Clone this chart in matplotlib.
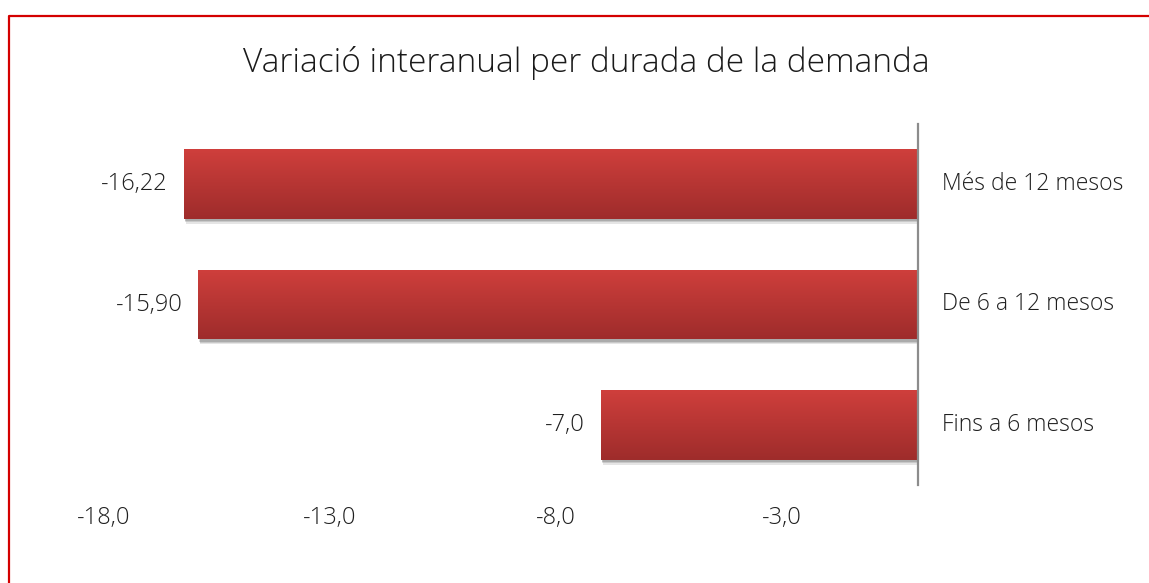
import matplotlib
matplotlib.use("Agg")
import matplotlib.pyplot as plt
import matplotlib.patheffects as pe
from matplotlib.lines import Line2D
import numpy as np

# ---- data ----
categories = ["Fins a 6 mesos", "De 6 a 12 mesos", "Més de 12 mesos"]
values = [-7.0, -15.90, -16.22]
value_labels = ["-7,0", "-15,90", "-16,22"]
x_ticks = [-18.0, -13.0, -8.0, -3.0]
x_tick_labels = ["-18,0", "-13,0", "-8,0", "-3,0"]
title = "Variació interanual per durada de la demanda"

W, H = 1149, 583
fig = plt.figure(figsize=(W / 100, H / 100), dpi=100)
fig.patch.set_facecolor("white")

FONT = "Open Sans"
WEIGHT = "light"
TXT = "#1f1f1f"
FS_CAT = 16.5
FS_NUM = 17

left_px, right_px, top_px, bot_px = 103.4, 917.5, 123.75, 485.25
ax = fig.add_axes([left_px / W, 1 - bot_px / H, (right_px - left_px) / W, (bot_px - top_px) / H])
ax.set_facecolor("none")

ypos = np.arange(len(categories))
bar_h = 0.58
top_col = np.array([207, 63, 60]) / 255
bot_col = np.array([158, 44, 43]) / 255
grad = np.linspace(0, 1, 256)[:, None, None]
grad_img = top_col * (1 - grad) + bot_col * grad

bars = ax.barh(ypos, values, height=bar_h, color=bot_col, edgecolor="none", zorder=2)
for b in bars:
    b.set_path_effects([
        pe.SimplePatchShadow(offset=(1.5, -3.5), shadow_rgbFace="#000000", alpha=0.10),
        pe.SimplePatchShadow(offset=(1.0, -2.5), shadow_rgbFace="#000000", alpha=0.12),
        pe.SimplePatchShadow(offset=(0.5, -1.5), shadow_rgbFace="#000000", alpha=0.15),
        pe.Normal(),
    ])
    x0 = b.get_x()
    w = b.get_width()
    y0 = b.get_y()
    h = b.get_height()
    im = ax.imshow(grad_img, extent=(min(x0, x0 + w), max(x0, x0 + w), y0, y0 + h),
                   origin="upper", aspect="auto", zorder=3, interpolation="bilinear")
    im.set_clip_path(b)

ax.set_xlim(-18, 0)
ax.set_ylim(-0.5, len(categories) - 0.5)

for s in ["top", "left", "bottom"]:
    ax.spines[s].set_visible(False)
ax.spines["right"].set_color("#8c8c8c")
ax.spines["right"].set_linewidth(1.6)
ax.spines["right"].set_zorder(4)

ax.set_xticks(x_ticks)
ax.set_xticklabels(x_tick_labels, fontsize=FS_NUM, family=FONT, fontweight=WEIGHT, color=TXT)
ax.tick_params(axis="x", length=0, pad=15)
ax.set_yticks([])

for y, c in zip(ypos, categories):
    ax.annotate(c, xy=(0, y), xytext=(25, 0), textcoords="offset pixels",
                ha="left", va="center", fontsize=FS_CAT, family=FONT, fontweight=WEIGHT, color=TXT)

for y, v, lab in zip(ypos, values, value_labels):
    ax.annotate(lab, xy=(v, y), xytext=(-16, 0), textcoords="offset pixels",
                ha="right", va="center", fontsize=FS_NUM, family=FONT, fontweight=WEIGHT, color=TXT)

fig.text(586.5 / W, 1 - 72 / H, title, ha="center", va="baseline",
         fontsize=24, family=FONT, fontweight=WEIGHT, color="#1a1a1a")

fig.add_artist(Line2D([8.5 / W, 8.5 / W, 1.0], [0.0, 1 - 15.5 / H, 1 - 15.5 / H],
                      transform=fig.transFigure, color="#d40000", lw=1.6))

fig.savefig("out.png", dpi=100, facecolor="white")
